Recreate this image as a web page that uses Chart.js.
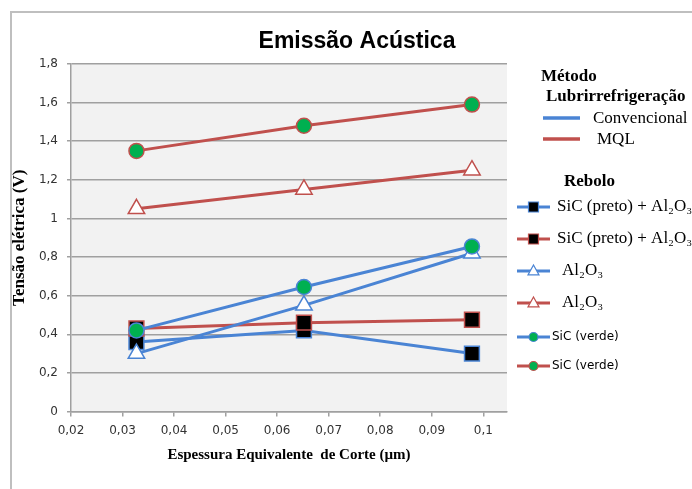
<!DOCTYPE html>
<html>
<head>
<meta charset="utf-8">
<script src="https://cdn.jsdelivr.net/npm/chart.js@4.4.0/dist/chart.umd.min.js"></script>
<style>
  html, body { margin: 0; padding: 0; background: #fff; }
  #wrap { position: relative; width: 692px; height: 489px; }
</style>
</head>
<body>
<div id="wrap"><canvas id="lineChart" width="692" height="489"></canvas></div>
<script>
// dados
var espessura = [0.0327, 0.0652, 0.0978];
var convPreto = [0.36, 0.42, 0.30];
var mqlPreto  = [0.43, 0.46, 0.475];
var convAl2O3 = [0.30, 0.55, 0.82];
var mqlAl2O3  = [1.05, 1.15, 1.25];
var convVerde = [0.42, 0.645, 0.855];
var mqlVerde  = [1.35, 1.48, 1.59];
var rebolos = ['SiC (preto) + Al₂O₃', 'SiC (preto) + Al₂O₃', 'Al₂O₃', 'Al₂O₃', 'SiC (verde)', 'SiC (verde)'];
var metodos = ['Convencional', 'MQL'];
var tituloGrafico = 'Emissão Acústica';
var tituloX = 'Espessura Equivalente  de Corte (µm)';
var tituloY = 'Tensão elétrica (V)';

var azul = '#4a84d4';
var vermelho = '#c0504d';
var verde = '#00b050';
var serif = '"Liberation Serif", "DejaVu Serif", serif';

function serie(label, valores, cor, estilo, fundo, raio, ordem) {
  var pts = [];
  for (var i = 0; i < valores.length; i++) {
    pts.push({ x: espessura[i], y: valores[i] });
  }
  return {
    label: label,
    data: pts,
    showLine: true,
    borderColor: cor,
    borderWidth: 3,
    pointStyle: estilo,
    pointRadius: raio,
    pointHoverRadius: raio,
    pointBackgroundColor: fundo,
    pointBorderColor: cor,
    pointBorderWidth: 1.5,
    order: ordem
  };
}

var datasets = [
  serie(rebolos[0], convPreto, azul, 'rect', '#000', 10.5, 5),
  serie(rebolos[1], mqlPreto, vermelho, 'rect', '#000', 10.5, 4),
  serie(rebolos[2], convAl2O3, azul, 'triangle', '#fff', 9.5, 3),
  serie(rebolos[3], mqlAl2O3, vermelho, 'triangle', '#fff', 9.5, 2),
  serie(rebolos[4], convVerde, azul, 'circle', verde, 7.5, 1),
  serie(rebolos[5], mqlVerde, vermelho, 'circle', verde, 7.5, 0)
];

function virgula(v, casas) {
  var r = Math.round(v * Math.pow(10, casas)) / Math.pow(10, casas);
  return String(r).replace('.', ',');
}

function marcador(ctx, ds, x, y, r) {
  ctx.save();
  ctx.fillStyle = ds.pointBackgroundColor;
  ctx.strokeStyle = ds.pointBorderColor;
  ctx.lineWidth = 1.2;
  ctx.beginPath();
  if (ds.pointStyle === 'rect') {
    ctx.rect(x - r, y - r, 2 * r, 2 * r);
  } else if (ds.pointStyle === 'triangle') {
    ctx.moveTo(x, y - r * 1.1);
    ctx.lineTo(x + r, y + r * 0.7);
    ctx.lineTo(x - r, y + r * 0.7);
    ctx.closePath();
  } else {
    ctx.arc(x, y, r, 0, Math.PI * 2);
  }
  ctx.fill();
  ctx.stroke();
  ctx.restore();
}

var moldura = {
  id: 'moldura',
  beforeDraw: function (chart) {
    var ctx = chart.ctx, a = chart.chartArea;
    ctx.save();
    ctx.strokeStyle = '#bfbfbf';
    ctx.lineWidth = 2;
    ctx.beginPath();
    ctx.moveTo(11, 489);
    ctx.lineTo(11, 12);
    ctx.lineTo(692, 12);
    ctx.stroke();
    ctx.fillStyle = '#f2f2f2';
    ctx.fillRect(a.left, a.top, a.right - a.left, a.bottom - a.top);
    ctx.restore();
  },
  afterDraw: function (chart) {
    var ctx = chart.ctx;
    ctx.save();
    // titulo
    ctx.fillStyle = '#000';
    ctx.font = 'bold 23px "Liberation Sans", Arial, sans-serif';
    ctx.textAlign = 'center';
    ctx.textBaseline = 'middle';
    ctx.fillText(tituloGrafico, 357, 42);

    // legenda do metodo
    ctx.textAlign = 'left';
    ctx.font = 'bold 17px ' + serif;
    ctx.fillText('Método', 541, 77);
    ctx.fillText('Lubrirrefrigeração', 546, 97);
    var corMet = [azul, vermelho];
    var yMet = [118, 139];
    var xTxt = [593, 597];
    ctx.lineWidth = 3.5;
    for (var m = 0; m < metodos.length; m++) {
      ctx.strokeStyle = corMet[m];
      ctx.beginPath();
      ctx.moveTo(543, yMet[m]);
      ctx.lineTo(580, yMet[m]);
      ctx.stroke();
      ctx.font = '17px ' + serif;
      ctx.fillStyle = '#000';
      ctx.fillText(metodos[m], xTxt[m], yMet[m] + 1);
    }

    // legenda dos rebolos
    ctx.font = 'bold 17px ' + serif;
    ctx.fillText('Rebolo', 564, 182);
    var yRef = [207, 239, 271, 303, 337, 366];
    var ds = chart.data.datasets;
    for (var i = 0; i < ds.length; i++) {
      var y = yRef[i];
      ctx.strokeStyle = ds[i].borderColor;
      ctx.lineWidth = 3;
      ctx.beginPath();
      ctx.moveTo(517, y);
      ctx.lineTo(550, y);
      ctx.stroke();
      var r = ds[i].pointStyle === 'rect' ? 5 : ds[i].pointStyle === 'triangle' ? 5.5 : 4.5;
      marcador(ctx, ds[i], 533.5, y, r);
      ctx.fillStyle = '#000';
      if (ds[i].label.indexOf('verde') >= 0) {
        ctx.font = '12px "DejaVu Sans", sans-serif';
        ctx.fillText(ds[i].label, 552, y);
      } else if (ds[i].label.indexOf('preto') >= 0) {
        ctx.font = '17px ' + serif;
        ctx.fillText(ds[i].label, 557, y);
      } else {
        ctx.font = '17px ' + serif;
        ctx.fillText(ds[i].label, 562, y);
      }
    }
    ctx.restore();
  }
};

var lineChart = new Chart(document.getElementById('lineChart').getContext('2d'), {
  type: 'scatter',
  data: { datasets: datasets },
  plugins: [moldura],
  options: {
    responsive: false,
    animation: false,
    devicePixelRatio: 1,
    layout: { padding: { top: 64, right: 185, left: 0, bottom: 0 } },
    plugins: {
      legend: { display: false },
      title: { display: false },
      tooltip: { enabled: false }
    },
    scales: {
      x: {
        type: 'linear',
        min: 0.02,
        max: 0.1046,
        afterFit: function (s) { s.height = 77.5; },
        ticks: {
          stepSize: 0.01,
          includeBounds: false,
          autoSkip: false,
          maxRotation: 0,
          padding: 7,
          color: '#333',
          font: { family: '"DejaVu Sans", sans-serif', size: 12 },
          callback: function (v) { return virgula(v, 2); }
        },
        grid: { drawOnChartArea: false, drawTicks: true, tickLength: 5, color: '#a0a0a0', lineWidth: 1.5 },
        border: { display: true, color: '#a0a0a0', width: 1.5 },
        title: {
          display: true,
          text: tituloX,
          color: '#000',
          font: { family: serif, size: 15, weight: 'bold' },
          padding: { top: 0, bottom: 25 }
        }
      },
      y: {
        min: 0,
        max: 1.8,
        afterFit: function (s) { s.width = 71; },
        ticks: {
          stepSize: 0.2,
          padding: 9,
          color: '#333',
          font: { family: '"DejaVu Sans", sans-serif', size: 12 },
          callback: function (v) { return virgula(v, 1); }
        },
        grid: { color: '#a0a0a0', lineWidth: 1.5, tickLength: 4 },
        border: { display: true, color: '#a0a0a0', width: 1.5 },
        title: {
          display: true,
          text: tituloY,
          color: '#000',
          font: { family: serif, size: 17, weight: 'bold' },
          padding: { top: 9, bottom: 0 }
        }
      }
    }
  }
});
</script>
</body>
</html>
